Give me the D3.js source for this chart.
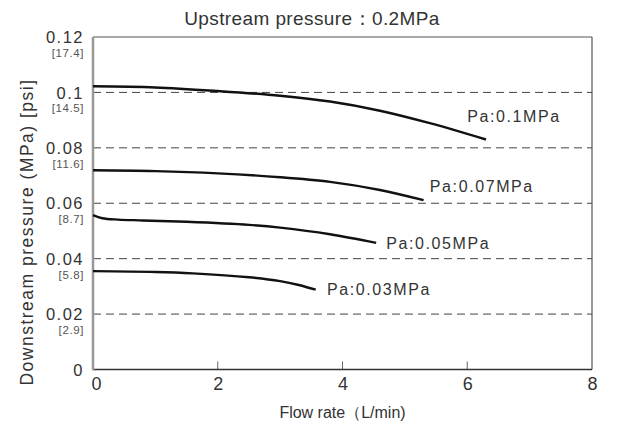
<!DOCTYPE html>
<html>
<head>
<meta charset="utf-8">
<script src="https://cdn.jsdelivr.net/npm/d3@7"></script>
<style>
  html, body { margin: 0; padding: 0; background: #fff; }
  svg { display: block; }
  text { font-family: "Liberation Sans", Arial, sans-serif; fill: #333; }
</style>
</head>
<body>
<svg id="chart" width="625" height="429"></svg>
<script>
// ---- data ----
const title = "Upstream pressure：0.2MPa";
const xLabel = "Flow rate（L/min)";
const yLabel = "Downstream pressure (MPa)  [psi]";
const xTicks = [0, 2, 4, 6, 8];
const yTicks = [0, 0.02, 0.04, 0.06, 0.08, 0.1, 0.12];
const yTickLabels = ["0", "0.02", "0.04", "0.06", "0.08", "0.1", "0.12"];
const yPsiLabels = ["", "[2.9]", "[5.8]", "[8.7]", "[11.6]", "[14.5]", "[17.4]"];
const gridValues = [0.02, 0.04, 0.06, 0.08, 0.1];

const seriesNames = ["Pa:0.1MPa", "Pa:0.07MPa", "Pa:0.05MPa", "Pa:0.03MPa"];
const flow01 = [0, 1, 2, 3, 3.8, 4.6, 5.4, 6.3];
const pres01 = [0.1022, 0.1018, 0.1005, 0.0988, 0.0967, 0.0934, 0.0889, 0.0830];
const flow007 = [0, 1, 2, 3, 3.8, 4.6, 5.3];
const pres007 = [0.0719, 0.0716, 0.0708, 0.0694, 0.0677, 0.0648, 0.0611];
const flow005 = [0, 0.15, 0.4, 0.8, 1.5, 2.5, 3.0, 3.8, 4.54];
const pres005 = [0.0557, 0.0546, 0.0541, 0.0538, 0.0533, 0.0522, 0.0512, 0.0488, 0.0457];
const flow003 = [0, 1, 1.6, 2.5, 3.0, 3.3, 3.57];
const pres003 = [0.0355, 0.0352, 0.0347, 0.0333, 0.0319, 0.0305, 0.0288];
// label anchor (data coords) for each series
const labelFlow = [6.0, 5.4, 4.7, 3.75];
const labelPres = [0.0893, 0.0640, 0.0434, 0.0268];

// ---- layout ----
const svg = d3.select("#chart");
const M = { left: 93, right: 592, top: 37, bottom: 369.5 };
const x = d3.scaleLinear().domain([0, 8]).range([M.left, M.right]);
const y = d3.scaleLinear().domain([0, 0.12]).range([M.bottom, M.top]);

// frame (top and right)
svg.append("line").attr("x1", M.left).attr("x2", M.right).attr("y1", M.top).attr("y2", M.top)
  .attr("stroke", "#555").attr("stroke-width", 1.2);
svg.append("line").attr("x1", M.right).attr("x2", M.right).attr("y1", M.top).attr("y2", M.bottom)
  .attr("stroke", "#555").attr("stroke-width", 1.2);

// gridlines
svg.append("g").selectAll("line").data(gridValues).join("line")
  .attr("x1", M.left).attr("x2", M.right)
  .attr("y1", d => y(d)).attr("y2", d => y(d))
  .attr("stroke", "#444").attr("stroke-width", 1)
  .attr("stroke-dasharray", "8,5");

// x axis
const xAxis = d3.axisBottom(x).tickValues(xTicks).tickSize(0).tickFormat(d3.format("d"));
const gx = svg.append("g").attr("transform", `translate(0,${M.bottom})`).call(xAxis);
gx.select(".domain").remove();
gx.selectAll("text").attr("dy", "0").attr("y", 20)
  .style("font-size", "18px").style("fill", "#333")
  .attr("dx", d => d === 0 ? 3 : 0);
// inner ticks
svg.append("g").selectAll("line").data(xTicks.filter(d => d > 0 && d < 8)).join("line")
  .attr("x1", d => x(d)).attr("x2", d => x(d))
  .attr("y1", M.bottom).attr("y2", M.bottom - 8)
  .attr("stroke", "#666").attr("stroke-width", 1);
svg.append("line").attr("x1", M.left).attr("x2", M.right).attr("y1", M.bottom).attr("y2", M.bottom)
  .attr("stroke", "#333").attr("stroke-width", 1.5);

// y axis line
svg.append("line").attr("x1", M.left).attr("x2", M.left).attr("y1", M.top).attr("y2", M.bottom + 0.75)
  .attr("stroke", "#999").attr("stroke-width", 2.5);

// y tick labels
const yAxis = d3.axisLeft(y).tickValues(yTicks).tickSize(0).tickFormat((d, i) => yTickLabels[i]);
const gy = svg.append("g").attr("transform", `translate(${M.left - 9},0)`).call(yAxis);
gy.select(".domain").remove();
gy.selectAll("text").attr("x", 0).attr("dy", "0.34em")
  .style("font-size", "16.5px").style("fill", "#333").style("letter-spacing", "1.5px");
svg.append("g").selectAll("text").data(yTicks.map((d, i) => ({ v: d, t: yPsiLabels[i] })).filter(d => d.t))
  .join("text")
  .attr("x", M.left - 9).attr("y", d => y(d.v) + 20)
  .attr("text-anchor", "end")
  .style("font-size", "11.5px").style("fill", "#555").style("letter-spacing", "0.6px")
  .text(d => d.t);

// curves
const seriesData = [
  d3.zip(flow01, pres01),
  d3.zip(flow007, pres007),
  d3.zip(flow005, pres005),
  d3.zip(flow003, pres003)
];
const line = d3.line().x(d => x(d[0])).y(d => y(d[1])).curve(d3.curveCatmullRom.alpha(0.5));
svg.append("g").selectAll("path").data(seriesData).join("path")
  .attr("d", line)
  .attr("fill", "none").attr("stroke", "#111").attr("stroke-width", 2.4)
  .attr("stroke-linecap", "butt");

// series labels
svg.append("g").selectAll("text").data(seriesNames).join("text")
  .attr("x", (d, i) => x(labelFlow[i])).attr("y", (d, i) => y(labelPres[i]))
  .style("font-size", "16px").style("fill", "#333").style("letter-spacing", "1.6px")
  .text(d => d);

// title
svg.append("text").attr("x", 312).attr("y", 25).attr("text-anchor", "middle")
  .style("font-size", "19px").style("fill", "#333").style("letter-spacing", "0.4px")
  .text(title);

// axis titles
svg.append("text").attr("x", x(4)).attr("y", 418).attr("text-anchor", "middle")
  .style("font-size", "16px").style("fill", "#333")
  .text(xLabel);
svg.append("text").attr("transform", "translate(33,232) rotate(-90)").attr("text-anchor", "middle")
  .style("font-size", "17.5px").style("fill", "#333").style("letter-spacing", "1.5px")
  .text(yLabel);
</script>
</body>
</html>
